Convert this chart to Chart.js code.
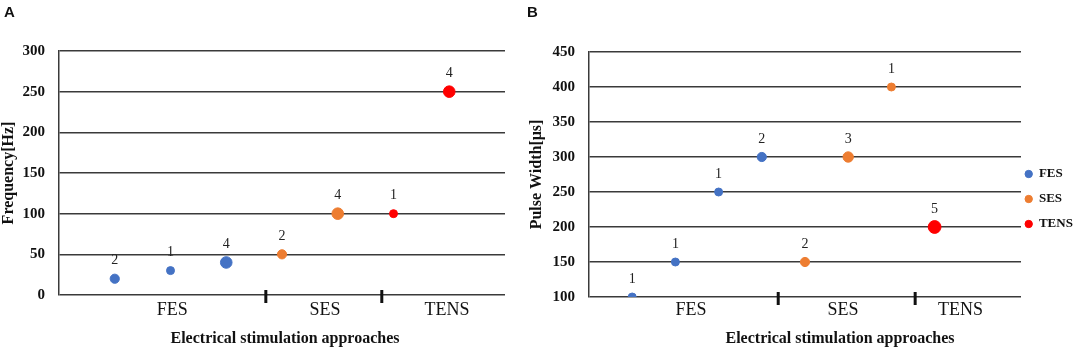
<!DOCTYPE html>
<html>
<head>
  <meta charset="UTF-8">
  <title>Electrical stimulation approaches</title>
  <script src="https://cdn.jsdelivr.net/npm/chart.js"></script>
  <style>
  body {
    margin: 0;
    background: #ffffff;
  }

  .panel {
    position: absolute;
    top: 0;
  }
</style>
</head>
<body>

  <div class="panel" style="left:0"><canvas id="chartA" width="520" height="350"></canvas></div>
  <div class="panel" style="left:520px"><canvas id="chartB" width="564" height="350"></canvas></div>

  <script>
    // category axis (positions are in x-axis units)
    const categories = ["FES", "SES", "TENS"];

    // panel A: frequency
    const catPosA = [2.03, 4.77, 6.96];
    const sepA = [3.71, 5.79];
    const fesA = { x: [1, 2, 3], y: [20, 30, 40], n: [2, 1, 4] };
    const sesA = { x: [4, 5], y: [50, 100], n: [2, 4] };
    const tensA = { x: [6, 7], y: [100, 250], n: [1, 4] };

    // panel B: pulse width
    const catPosB = [2.36, 5.88, 8.6];
    const sepB = [4.38, 7.55];
    const fesB = { x: [1, 2, 3, 4], y: [100, 150, 250, 300], n: [1, 1, 1, 2] };
    const sesB = { x: [5, 6, 7], y: [150, 300, 400], n: [2, 3, 1] };
    const tensB = { x: [8], y: [200], n: [5] };

    const colors = { FES: "#4472C4", SES: "#ED7D31", TENS: "#FF0000" };
    const serif = "'Liberation Serif', 'Times New Roman', serif";
    const gridColor = "#3a3a3a";

    function points(s) {
      // bubble radius grows with the number of studies
      return s.x.map((x, i) => ({ x, y: s.y[i], n: s.n[i], r: 3.4 + 0.6 * s.n[i] }));
    }

    function ds(label, s) {
      return {
        label,
        data: points(s),
        backgroundColor: colors[label],
        borderColor: colors[label],
        borderWidth: 1,
        pointStyle: "circle"
      };
    }

    // count labels above each bubble + separator marks on the category axis
    const marksPlugin = {
      id: "marks",
      afterDatasetsDraw(chart, args, opts) {
        const ctx = chart.ctx;
        ctx.save();
        ctx.font = "14px " + serif;
        ctx.fillStyle = "#222";
        ctx.textAlign = "center";
        ctx.textBaseline = "middle";
        chart.data.datasets.forEach((d, di) => {
          chart.getDatasetMeta(di).data.forEach((el, i) => {
            ctx.fillText(String(d.data[i].n), el.x, el.y - 18);
          });
        });
        const xs = chart.scales.x;
        const bottom = chart.chartArea.bottom;
        ctx.strokeStyle = "#111";
        ctx.lineWidth = 3;
        (opts.separators || []).forEach(v => {
          const px = xs.getPixelForValue(v);
          ctx.beginPath();
          ctx.moveTo(px, bottom - 5);
          ctx.lineTo(px, bottom + 8);
          ctx.stroke();
        });
        // x axis caption
        ctx.font = "bold 16px " + serif;
        ctx.fillStyle = "#111";
        ctx.textBaseline = "alphabetic";
        const cx = (chart.chartArea.left + chart.chartArea.right) / 2 + (opts.shift || 0);
        ctx.fillText(opts.caption, cx, chart.height - 7);
        ctx.restore();
      }
    };

    function makeOptions(cfg) {
      return {
        responsive: false,
        animation: false,
        events: [],
        layout: { padding: cfg.padding },
        plugins: {
          title: {
            display: true,
            text: cfg.letter,
            align: "start",
            color: "#111",
            font: { family: "'Liberation Sans', Arial, sans-serif", size: 15, weight: "bold" },
            padding: { top: 4, bottom: cfg.titleGap }
          },
          legend: cfg.legend,
          tooltip: { enabled: false },
          marks: { separators: cfg.separators, caption: "Electrical stimulation approaches", shift: cfg.captionShift }
        },
        scales: {
          x: {
            type: "linear",
            min: 0,
            max: cfg.xMax,
            grid: { display: false, drawTicks: false, tickLength: 0 },
            border: { display: false },
            afterBuildTicks: (scale) => { scale.ticks = cfg.catPos.map(v => ({ value: v })); },
            afterFit: (scale) => { scale.height = cfg.xHeight; },
            ticks: {
              autoSkip: false,
              maxRotation: 0,
              padding: cfg.catPad,
              color: "#111",
              font: { family: serif, size: 18 },
              callback: (value, index) => categories[index]
            }
          },
          y: {
            min: cfg.yMin,
            max: cfg.yMax,
            afterFit: (scale) => { scale.width = cfg.yWidth; },
            grid: { color: gridColor, lineWidth: 1.5, drawTicks: false },
            border: { display: true, color: gridColor, width: 1.5 },
            ticks: {
              stepSize: 50,
              padding: 14,
              color: "#111",
              font: { family: serif, size: 15, weight: "bold" }
            },
            title: {
              display: true,
              text: cfg.yTitle,
              color: "#111",
              padding: { top: cfg.yTitlePad, bottom: 0 },
              font: { family: serif, size: 16, weight: "bold" }
            }
          }
        }
      };
    }

    new Chart(document.getElementById("chartA"), {
      type: "bubble",
      data: { datasets: [ds("FES", fesA), ds("SES", sesA), ds("TENS", tensA)] },
      options: makeOptions({
        letter: "A",
        padding: { left: 4, right: 15, top: 0, bottom: 0 },
        titleGap: 29,
        legend: { display: false },
        separators: sepA,
        captionShift: 3,
        xMax: 8,
        catPos: catPosA,
        xHeight: 55,
        catPad: 4,
        yMin: 0,
        yMax: 300,
        yWidth: 55,
        yTitle: "Frequency[Hz]",
        yTitlePad: -4.6
      }),
      plugins: [marksPlugin]
    });

    new Chart(document.getElementById("chartB"), {
      type: "bubble",
      data: { datasets: [ds("FES", fesB), ds("SES", sesB), ds("TENS", tensB)] },
      options: makeOptions({
        letter: "B",
        padding: { left: 7, right: 0, top: 0, bottom: 0 },
        titleGap: 30,
        legend: {
          display: true,
          position: "right",
          maxWidth: 63,
          labels: {
            usePointStyle: true,
            pointStyle: "circle",
            boxHeight: 5.2,
            pointStyleWidth: 7.4,
            padding: 12,
            color: "#111",
            font: { family: serif, size: 13, weight: "bold" }
          }
        },
        separators: sepB,
        captionShift: 35,
        xMax: 10,
        catPos: catPosB,
        xHeight: 53,
        catPad: 2,
        yMin: 100,
        yMax: 450,
        yWidth: 62,
        yTitle: "Pulse Width[μs]",
        yTitlePad: 0
      }),
      plugins: [marksPlugin, {
        id: "legendNudge",
        afterLayout(chart) {
          const lg = chart.legend;
          lg.left -= 8; lg.right -= 8;
          lg.top += 24; lg.bottom += 24;
        }
      }]
    });
  </script>

</body>
</html>
